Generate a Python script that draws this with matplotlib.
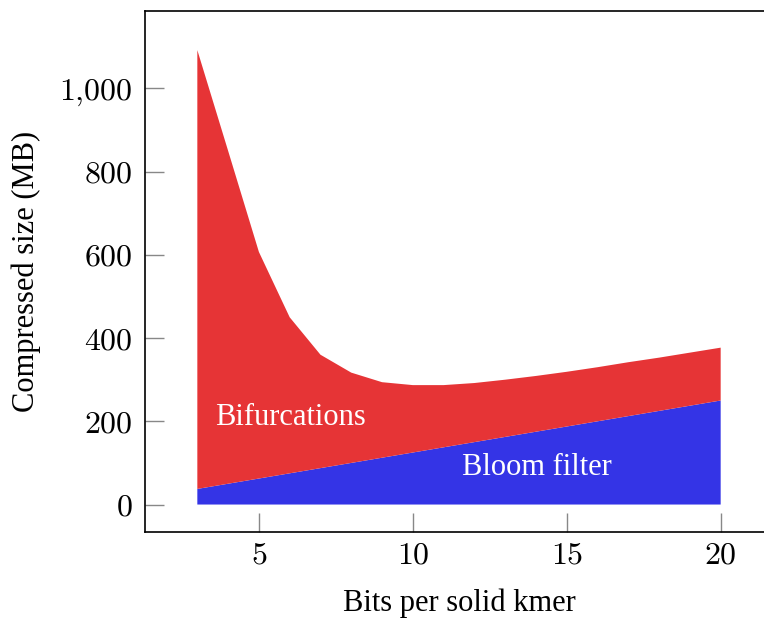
import matplotlib
matplotlib.use("Agg")
import matplotlib.pyplot as plt
import numpy as np

bits = [3, 4, 5, 6, 7, 8, 9, 10, 11, 12, 13, 14, 15, 16, 17, 18, 19, 20]
bloom = [37.5, 50, 62.5, 75, 87.5, 100, 112.5, 125, 137.5, 150, 162.5, 175, 187.5, 200, 212.5, 225, 237.5, 250]
total = [1092, 850, 607, 450, 360, 317, 294, 287, 287, 292, 300, 309, 319, 330, 342, 353, 365, 377]
bifurcations = [t - b for t, b in zip(total, bloom)]

yticks = [0, 200, 400, 600, 800, 1000]
ytick_labels = ["0", "200", "400", "600", "800", "1,000"]
xticks = [5, 10, 15, 20]

plt.rcParams['font.family'] = ['Liberation Serif', 'DejaVu Serif']
plt.rcParams['mathtext.fontset'] = 'cm'

fig = plt.figure(figsize=(7.64, 6.2), dpi=100)
ax = fig.add_axes([145/764, 88/620, (773-145)/764, (532-11)/620])

red = '#e63436'
blue = '#3434e6'
ax.stackplot(bits, bloom, bifurcations, colors=[blue, red], linewidth=0)

ax.set_xlim(1.3, 21.7)
ax.set_ylim(-66, 1186)
ax.set_xticks(xticks)
ax.set_xticklabels([f"${v}$" for v in xticks])
ax.set_yticks(yticks)
ax.set_yticklabels(["$" + s.replace(",", "{,}") + "$" for s in ytick_labels])
ax.tick_params(direction='in', length=14, width=1, color='#888888', labelsize=23, pad=7)
ax.tick_params(axis='y', pad=9)
for s in ax.spines.values():
    s.set_linewidth(1.2)

ax.set_xlabel("Bits per solid kmer", fontsize=22, labelpad=13)
ax.set_ylabel("Compressed size (MB)", fontsize=22, labelpad=13)

ax.text(3.57, 210, "Bifurcations", color='white', fontsize=22, va='center', ha='left')
ax.text(11.59, 90, "Bloom filter", color='white', fontsize=22, va='center', ha='left')

fig.savefig("out.png", dpi=100)
